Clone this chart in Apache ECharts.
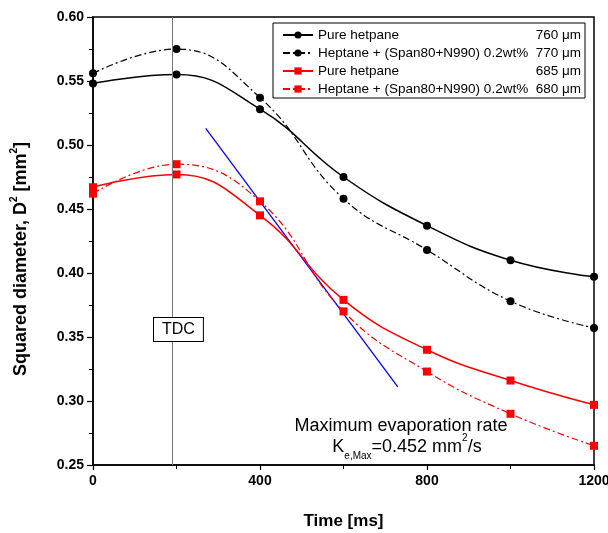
<!DOCTYPE html>
<html>
<head>
<meta charset="utf-8">
<script src="https://cdn.jsdelivr.net/npm/echarts@6/dist/echarts.min.js"></script>
<style>
  body { margin: 0; background: #fff; }
  #container { width: 608px; height: 533px; }
</style>
</head>
<body>
<div id="container"></div>
<script type="text/javascript">
// time axis (ms)
var times = [0, 200, 400, 600, 800, 1000, 1200];

// squared diameter D^2 [mm^2]
var pure760 = [0.548, 0.555, 0.528, 0.475, 0.437, 0.410, 0.397];
var span770 = [0.556, 0.575, 0.537, 0.458, 0.418, 0.378, 0.357];
var pure685 = [0.467, 0.477, 0.445, 0.379, 0.340, 0.316, 0.297];
var span680 = [0.462, 0.485, 0.456, 0.370, 0.323, 0.290, 0.265];

var seriesKeys   = ['s760', 's770', 's685', 's680'];
var seriesLabels = ['Pure hetpane', 'Heptane + (Span80+N990) 0.2wt%', 'Pure hetpane', 'Heptane + (Span80+N990) 0.2wt%'];
var seriesSizes  = ['760 μm', '770 μm', '685 μm', '680 μm'];

// max evaporation rate tangent line, and TDC position
var tangentX = [270, 730];
var tangentY = [0.513, 0.311];
var tdcTime = 190;

var dashDot = [7, 3, 2, 3];
var FONT = 'Arial, Liberation Sans';

function pairs(xs, ys) {
    var out = [];
    for (var i = 0; i < xs.length; i++) out.push([xs[i], ys[i]]);
    return out;
}

function curve(key, vals, color, symbol, size, dashed) {
    return {
        name: key,
        type: 'line',
        data: pairs(times, vals),
        smooth: 0.45,
        symbol: symbol,
        symbolSize: size,
        itemStyle: { color: color },
        lineStyle: { color: color, width: dashed ? 1.2 : 1.5, type: dashed ? dashDot : 'solid' },
        z: 3
    };
}

var dom = document.getElementById('container');
var myChart = echarts.init(dom);

var option = {
    animation: false,
    backgroundColor: '#fff',
    grid: {
        left: 93, right: 14, top: 17, bottom: 68,
        outerBoundsMode: 'none',
        containLabel: false,
        show: true, borderColor: '#000', borderWidth: 1.5
    },
    legend: {
        data: seriesKeys,
        orient: 'vertical',
        left: 273, top: 23,
        width: 311,
        padding: [5, 4, 2, 9],
        itemGap: 4,
        itemWidth: 30,
        itemHeight: 9,
        borderColor: '#000',
        borderWidth: 1,
        backgroundColor: '#fff',
        formatter: function (name) {
            var i = seriesKeys.indexOf(name);
            return '{n|' + seriesLabels[i] + '}{v|' + seriesSizes[i] + '}';
        },
        textStyle: {
            color: '#000',
            fontFamily: FONT,
            fontSize: 13.5,
            rich: {
                n: { width: 205, fontSize: 13.5, lineHeight: 14, color: '#000', fontFamily: FONT },
                v: { width: 58, align: 'right', fontSize: 13.5, lineHeight: 14, color: '#000', fontFamily: FONT }
            }
        }
    },
    xAxis: {
        type: 'value',
        min: 0, max: 1200, interval: 400,
        name: 'Time [ms]',
        nameLocation: 'middle',
        nameGap: 48,
        nameTextStyle: { color: '#000', fontWeight: 'bold', fontSize: 17, fontFamily: FONT },
        axisLine: { lineStyle: { color: '#000', width: 1.5 } },
        axisTick: { show: true, length: 5, lineStyle: { color: '#000', width: 1.2 } },
        minorTick: { show: true, splitNumber: 2, length: 4, lineStyle: { color: '#000', width: 1 } },
        axisLabel: {
            color: '#000', fontWeight: 'bold', fontSize: 14, margin: 9,
            fontFamily: FONT,
            formatter: function (v) { return String(v); }
        },
        splitLine: { show: false }
    },
    yAxis: {
        type: 'value',
        min: 0.25, max: 0.60, interval: 0.05,
        name: '{t|Squared diameter, D}{sup|2}{t| [mm}{sup|2}{t|]}',
        nameLocation: 'middle',
        nameGap: 60,
        nameTextStyle: {
            color: '#000', fontWeight: 'bold', fontSize: 18, fontFamily: FONT,
            padding: [0, 36, 0, 0],
            rich: {
                t: { color: '#000', fontWeight: 'bold', fontSize: 18, fontFamily: FONT, lineHeight: 24, verticalAlign: 'middle' },
                sup: { color: '#000', fontWeight: 'bold', fontSize: 10, fontFamily: FONT, lineHeight: 24, verticalAlign: 'top' }
            }
        },
        axisLine: { lineStyle: { color: '#000', width: 1.5 } },
        axisTick: { show: true, length: 6, lineStyle: { color: '#000', width: 1.2 } },
        minorTick: { show: true, splitNumber: 2, length: 4, lineStyle: { color: '#000', width: 1 } },
        axisLabel: {
            color: '#000', fontWeight: 'bold', fontSize: 14, margin: 9,
            fontFamily: FONT,
            formatter: function (v) { return v.toFixed(2); }
        },
        splitLine: { show: false }
    },
    series: [
        curve('s760', pure760, '#000', 'circle', 8, false),
        curve('s770', span770, '#000', 'circle', 8, true),
        curve('s685', pure685, '#ff0000', 'rect', 8, false),
        curve('s680', span680, '#ff0000', 'rect', 8, true),
        {
            name: 'tangent',
            type: 'line',
            data: pairs(tangentX, tangentY),
            symbol: 'none',
            lineStyle: { color: '#0000ff', width: 1.3 },
            z: 2,
            markLine: {
                silent: true,
                symbol: 'none',
                label: { show: false },
                lineStyle: { color: '#777', width: 1, type: 'solid' },
                data: [{ xAxis: tdcTime }]
            }
        }
    ],
    graphic: [
        {
            type: 'text',
            left: 153, top: 317,
            z: 10,
            style: {
                text: 'TDC',
                fontSize: 16,
                fontFamily: FONT,
                fill: '#000',
                backgroundColor: '#fff',
                borderColor: '#000',
                borderWidth: 1,
                padding: [4, 8, 3, 8]
            }
        },
        {
            type: 'text',
            x: 401, y: 426,
            z: 10,
            style: {
                text: 'Maximum evaporation rate',
                fontSize: 18,
                fontFamily: FONT,
                fill: '#000',
                align: 'center',
                verticalAlign: 'middle'
            }
        },
        {
            type: 'text',
            x: 407, y: 447,
            z: 10,
            style: {
                text: '{t|K}{sub|e,Max}{t|=0.452 mm}{sup|2}{t|/s}',
                align: 'center',
                verticalAlign: 'middle',
                rich: {
                    t: { fontSize: 18, fontFamily: FONT, fill: '#000', lineHeight: 28, verticalAlign: 'middle' },
                    sub: { fontSize: 10, fontFamily: FONT, fill: '#000', lineHeight: 28, verticalAlign: 'bottom' },
                    sup: { fontSize: 10, fontFamily: FONT, fill: '#000', lineHeight: 28, verticalAlign: 'top' }
                }
            }
        }
    ]
};

myChart.setOption(option);
</script>
</body>
</html>
